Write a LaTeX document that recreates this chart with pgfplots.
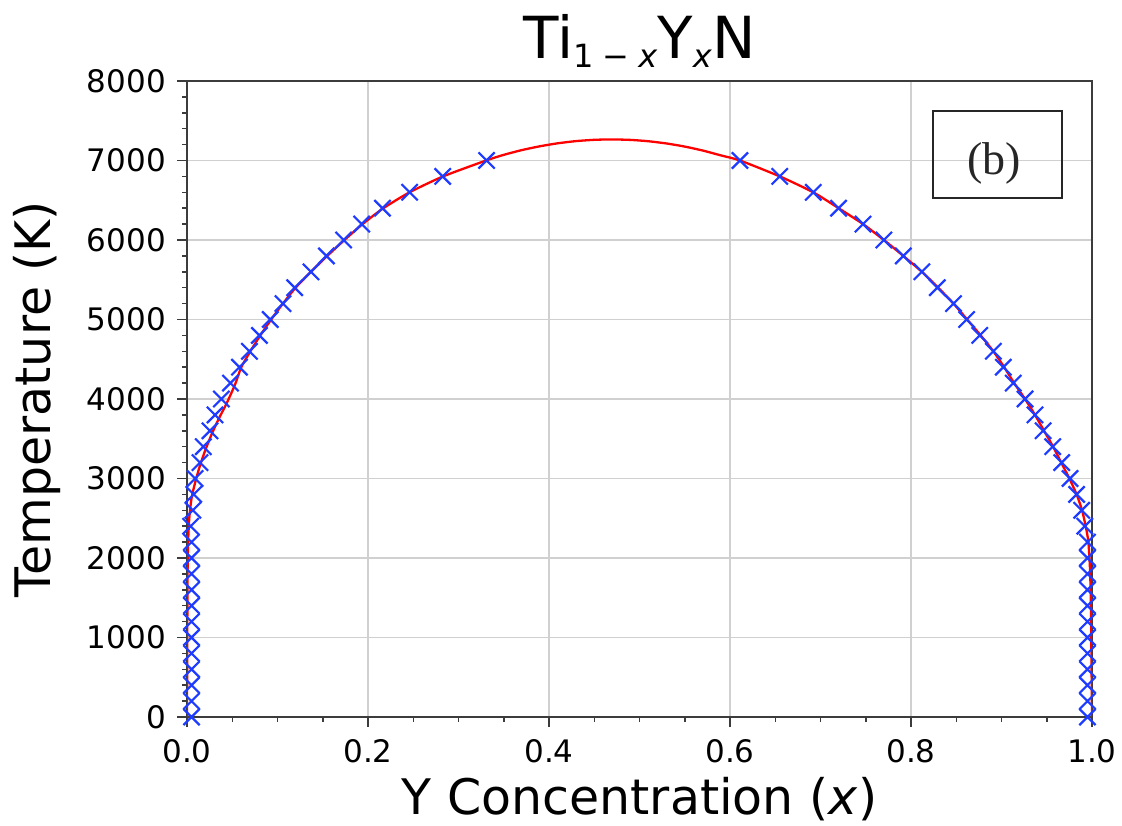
\documentclass[border=0pt]{standalone}
\usepackage{fontspec}
\setmainfont{DejaVu Sans}
\newfontfamily\seriffont{Liberation Serif}
\usepackage{pgfplots}
\pgfplotsset{compat=1.18}
\definecolor{mblue}{RGB}{30,60,255}
\definecolor{gridgray}{RGB}{208,208,208}
\definecolor{spine}{RGB}{60,60,60}
\newcommand{\sub}[1]{\raisebox{-0.16em}{\fontsize{32}{32}\selectfont #1}}

\pgfplotstableread{
x T
0.005 0
0.005 200
0.005 400
0.005 600
0.005 800
0.005 1000
0.005 1200
0.005 1400
0.005 1600
0.005 1800
0.005 2000
0.005 2200
0.004 2400
0.0065 2600
0.0075 2800
0.009 3000
0.0144 3200
0.018 3400
0.0254 3600
0.031 3800
0.038 4000
0.048 4200
0.058 4400
0.069 4600
0.080 4800
0.092 5000
0.106 5200
0.119 5400
0.137 5600
0.154 5800
0.173 6000
0.193 6200
0.216 6400
0.246 6600
0.2825 6800
0.331 7000
}\leftpts

\pgfplotstableread{
x T
0.995 0
0.995 200
0.995 400
0.995 600
0.995 800
0.995 1000
0.995 1200
0.995 1400
0.995 1600
0.995 1800
0.995 2000
0.995 2200
0.992 2400
0.9886 2600
0.983 2800
0.9757 3000
0.9665 3200
0.9566 3400
0.946 3600
0.937 3800
0.926 4000
0.913 4200
0.902 4400
0.891 4600
0.876 4800
0.8615 5000
0.847 5200
0.829 5400
0.812 5600
0.7915 5800
0.770 6000
0.747 6200
0.720 6400
0.692 6600
0.655 6800
0.611 7000
}\rightpts

\pgfplotstableread{
x T
0.0000 0
0.0003 1000
0.0006 1800
0.0012 2200
0.0025 2500
0.0050 2750
0.0090 2950
0.0140 3150
0.0200 3350
0.0270 3550
0.0350 3750
0.0440 3950
0.0530 4180
0.0600 4400
0.0700 4600
0.0810 4800
0.0930 5000
0.1060 5200
0.1200 5400
0.1370 5600
0.1550 5800
0.1740 6000
0.1940 6200
0.2170 6400
0.2460 6600
0.2830 6800
0.3310 7002
0.3500 7071
0.3700 7131
0.3900 7179
0.4100 7217
0.4300 7244
0.4500 7260
0.4690 7265
0.4900 7259
0.5100 7242
0.5300 7214
0.5500 7175
0.5700 7125
0.5900 7064
0.6110 7000
0.6550 6800
0.6920 6600
0.7200 6400
0.7470 6200
0.7700 6000
0.7915 5800
0.8120 5600
0.8300 5400
0.8470 5200
0.8620 5000
0.8770 4800
0.8910 4600
0.9030 4400
0.9140 4200
0.9260 4000
0.9370 3800
0.9470 3600
0.9570 3400
0.9660 3200
0.9750 3000
0.9830 2800
0.9890 2600
0.9930 2400
0.9960 2200
0.9980 1800
0.9990 1200
1.0000 0
}\curve

\begin{document}
\begin{tikzpicture}[x=1pt,y=1pt]
\useasboundingbox (0,0) rectangle (1122,825);
\begin{axis}[
  at={(187pt,108pt)}, anchor=south west,
  scale only axis, width=905pt, height=636pt,
  xmin=0, xmax=1, ymin=0, ymax=8000,
  xtick={0,0.2,0.4,0.6,0.8,1.0},
  ytick={0,1000,2000,3000,4000,5000,6000,7000,8000},
  minor x tick num=3, minor y tick num=4,
  scaled ticks=false,
  tick align=outside, xtick pos=bottom, ytick pos=left,
  major tick length=10pt, minor tick length=5pt,
  every tick/.style={line width=1.5pt, spine},
  grid=major,
  major grid style={line width=1.8pt, gridgray},
  axis line style={line width=1.8pt, spine},
  ticklabel style={font=\fontsize{31}{31}\selectfont, inner sep=0pt, /pgf/number format/assume math mode=true},
  xticklabel style={/pgf/number format/fixed, /pgf/number format/fixed zerofill, /pgf/number format/precision=1, anchor=north, yshift=-12pt},
  yticklabel style={/pgf/number format/set thousands separator={}, anchor=east, xshift=-11pt},
  title={Ti\sub{1\kern0.28em−\kern0.28em\textit{x}}Y\sub{\textit{x}}N},
  every axis title/.style={at={(axis description cs:0.5,1.036)}, anchor=base, font=\fontsize{58}{58}\selectfont},
  xlabel={Y Concentration (\textit{x})},
  every axis x label/.style={at={(axis description cs:0.5,-0.1530)}, anchor=base, font=\fontsize{49}{49}\selectfont},
  ylabel={Temperature (K)},
  every axis y label/.style={at={(axis description cs:-0.1503,0.5)}, anchor=base, rotate=90, font=\fontsize{49}{49}\selectfont},
]
\addplot[only marks, mark=x, mark size=11.5pt, mblue, mark options={line width=2.2pt}] table[x=x,y=T] {\leftpts};
\addplot[only marks, mark=x, mark size=11.5pt, mblue, mark options={line width=2.2pt}] table[x=x,y=T] {\rightpts};
\addplot[red, line width=2.3pt, smooth, tension=0.4] table[x=x,y=T] {\curve};
\draw[line width=2.5pt, black!85] (rel axis cs:0.8243,0.816) rectangle (rel axis cs:0.9669,0.9528);
\node[anchor=base, font=\seriffont\fontsize{46}{46}\selectfont, text=black!85] at (rel axis cs:0.8917,0.8522) {(b)};
\end{axis}
\end{tikzpicture}
\end{document}
